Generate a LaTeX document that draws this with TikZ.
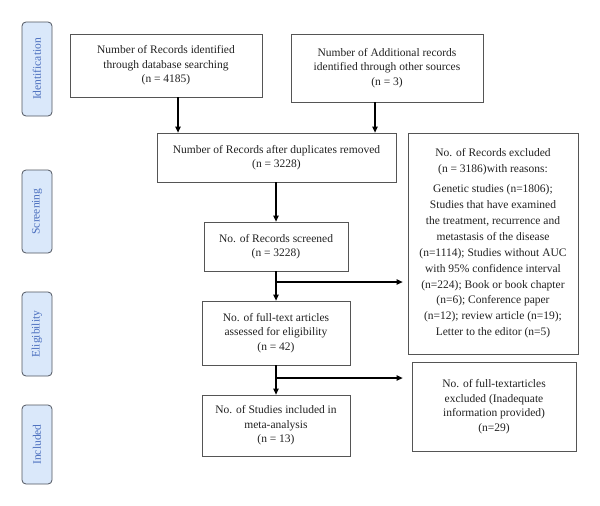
\documentclass[tikz,border=0pt]{standalone}
\usepackage{fontspec}
\setmainfont{Liberation Serif}
\usetikzlibrary{arrows.meta}
\definecolor{boxline}{HTML}{555555}
\definecolor{txt}{HTML}{222222}
\definecolor{labfill}{HTML}{DAE8FA}
\definecolor{labline}{HTML}{505560}
\definecolor{labtxt}{HTML}{4A6EBE}
\begin{document}
\begin{tikzpicture}[x=1pt,y=-1pt,
  box/.style={draw=boxline, line width=0.8pt, fill=white, text=txt, align=center, inner sep=0pt,
    font=\fontsize{11.5}{14.5}\selectfont},
  side/.style={draw=labline, line width=0.8pt, fill=labfill, text=labtxt, rounded corners=4pt,
    rotate=90, minimum height=30pt, inner sep=0pt, font=\fontsize{11.5}{14}\selectfont},
  arr/.style={draw=black, line width=1.2pt, -{Triangle[length=6pt,width=5.5pt]}},
  ln/.style={draw=black, line width=1.2pt}]
\useasboundingbox (0,0) rectangle (600,506);
\fill[white] (0,0) rectangle (600,506);
% side labels
\node[side, minimum width=94pt] (s1) at (37,69) {Identification};
\node[side, minimum width=83pt] (s2) at (37,211.5) {Screening};
\node[side, minimum width=84pt] (s3) at (37,334) {Eligibility};
\node[side, minimum width=79pt] (s4) at (37,444.5) {Included};
% boxes
\node[box, minimum width=192pt, minimum height=63pt] (b1) at (166,65.5)
  {Number of Records identified\\through database searching\\(n = 4185)};
\node[box, minimum width=192pt, minimum height=68pt] (b2) at (387,68)
  {Number of Additional records\\identified through other sources\\(n = 3)};
\node[box, minimum width=239pt, minimum height=49pt] (b3) at (276.5,157.5)
  {Number of Records after duplicates removed\\(n = 3228)};
\node[box, minimum width=144pt, minimum height=49pt] (b4) at (276,246.5)
  {No. of Records screened\\(n = 3228)};
\node[box, minimum width=148pt, minimum height=64pt] (b5) at (276,333)
  {No. of full-text articles\\assessed for eligibility\\(n = 42)};
\node[box, minimum width=170pt, minimum height=221pt, font=\fontsize{11.5}{15.9}\selectfont] (b6) at (493,243.5)
  {No. of Records excluded\\(n = 3186)with reasons:\\[4pt]
   Genetic studies (n=1806);\\Studies that have examined\\the treatment, recurrence and\\metastasis of the disease\\
   (n=1114); Studies without AUC\\with 95\% confidence interval\\(n=224); Book or book chapter\\
   (n=6); Conference paper\\(n=12); review article (n=19);\\Letter to the editor (n=5)};
\node[box, minimum width=148pt, minimum height=61pt] (b7) at (276,425.5)
  {No. of Studies included in\\meta-analysis\\(n = 13)};
\node[box, minimum width=164pt, minimum height=89pt] (b8) at (494,406.5)
  {No. of full-textarticles\\excluded (Inadequate\\information provided)\\(n=29)};
% connector columns
\coordinate (c1) at (178,0);
\coordinate (c2) at (375,0);
\coordinate (j1) at (276,282);
\coordinate (j2) at (276,378);
\draw[arr] (b1.south -| c1) -- (b3.north -| c1);
\draw[arr] (b2.south -| c2) -- (b3.north -| c2);
\draw[arr] (b3.south -| b4.north) -- (b4.north);
\draw[arr] (b4.south) -- (b5.north);
\draw[arr] (b5.south) -- (b7.north);
\draw[arr, shorten >=5pt] (j1) -- (j1 -| b6.west);
\draw[arr, shorten >=9pt] (j2) -- (j2 -| b8.west);
\end{tikzpicture}
\end{document}
